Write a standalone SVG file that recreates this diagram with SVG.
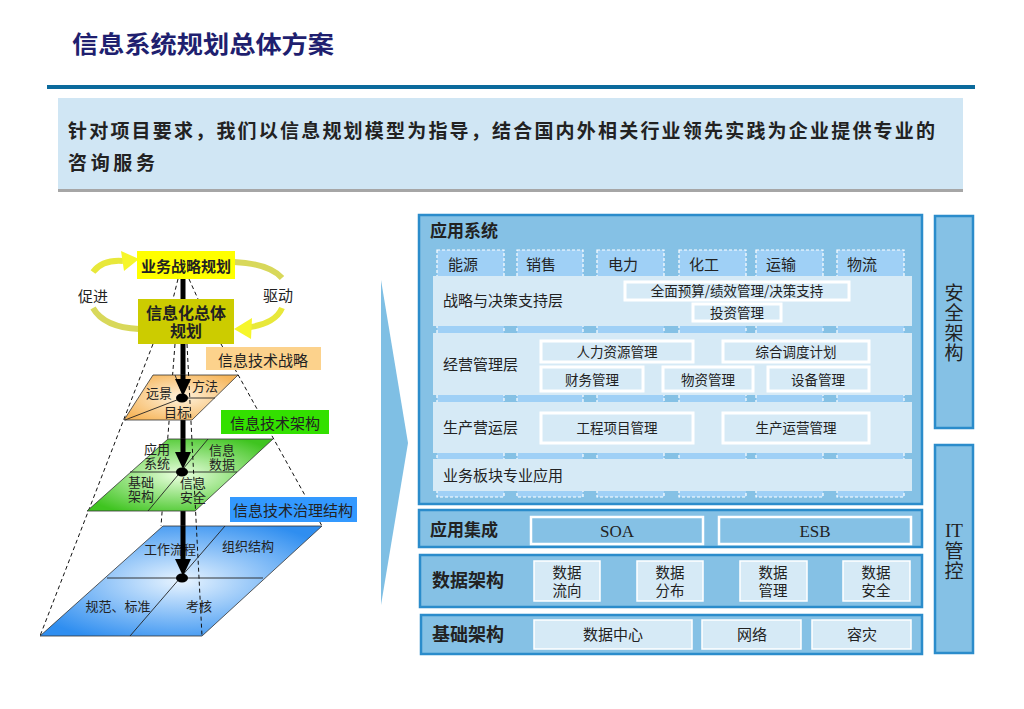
<svg xmlns="http://www.w3.org/2000/svg" width="1024" height="709" viewBox="0 0 1024 709">
<style>
.cjk{font-family:"Noto Sans CJK SC","Noto Sans",sans-serif;}
.t{font-family:"Noto Sans CJK SC","Noto Sans",sans-serif;fill:#222;}
.b{font-weight:bold;}
.ser{font-family:"Liberation Serif","Noto Sans CJK SC",serif;fill:#222;}
.vt{font-family:"Noto Sans CJK SC","Noto Sans",sans-serif;fill:#222;writing-mode:vertical-rl;letter-spacing:1px;}
.panel{fill:#85c1e5;stroke:#2b8ccb;stroke-width:2.5;}
.tab{fill:#9fd0f6;stroke:#ffffff;stroke-width:1.2;stroke-dasharray:3 2;}
.layer{fill:#d6eaf6;}
.ibox{fill:#d6eaf6;stroke:#ffffff;stroke-width:3;}
.ibox2{fill:#85c1e5;stroke:#ffffff;stroke-width:2.5;}
.dbox{fill:#d6eaf6;stroke:#ffffff;stroke-width:1.5;}
.dash{fill:none;stroke:#111;stroke-width:1;stroke-dasharray:4 3;}
.plane{stroke:#333;stroke-width:0.8;}
.div{stroke:#222;stroke-width:0.9;fill:none;}
.yarc{fill:none;stroke-width:6;}
.blk{stroke:#000;stroke-width:5;}
</style>
<defs>
<radialGradient id="gOr" cx="0.5" cy="0.5" r="0.6">
<stop offset="0" stop-color="#fff2dc"/><stop offset="1" stop-color="#f6b65c"/>
</radialGradient>
<radialGradient id="gGr" cx="0.5" cy="0.5" r="0.6">
<stop offset="0" stop-color="#eaffdf"/><stop offset="1" stop-color="#3fc420"/>
</radialGradient>
<radialGradient id="gBl" cx="0.5" cy="0.5" r="0.6">
<stop offset="0" stop-color="#e8f4ff"/><stop offset="1" stop-color="#2f8ef0"/>
</radialGradient>
<linearGradient id="gY1" x1="0" y1="1" x2="0" y2="0">
<stop offset="0" stop-color="#d6d65a"/><stop offset="1" stop-color="#f6f62a"/>
</linearGradient>
<linearGradient id="gY2" x1="0" y1="0" x2="0" y2="1">
<stop offset="0" stop-color="#d6d65a"/><stop offset="1" stop-color="#f6f62a"/>
</linearGradient>
</defs>
<rect width="1024" height="709" fill="#ffffff"/>

<g id="header">
<text x="72" y="53" class="cjk b" font-size="24" fill="#1f1f6f" textLength="262" lengthAdjust="spacingAndGlyphs">信息系统规划总体方案</text>
<rect x="47" y="85" width="928" height="4" fill="#0b6a9c"/>
<rect x="58" y="98" width="905" height="92" fill="#d0e6f4"/>
<rect x="58" y="189" width="905" height="3" fill="#a6a6a6"/>
<text x="68" y="138" class="t b" font-size="19" textLength="867">针对项目要求，我们以信息规划模型为指导，结合国内外相关行业领先实践为企业提供专业的</text>
<text x="68" y="170" class="t b" font-size="19" textLength="87">咨询服务</text>
</g>

<g id="connectors">
<line class="dash" x1="153" y1="344" x2="40" y2="636"/>
<line class="dash" x1="175" y1="344" x2="161" y2="526"/>
<line class="dash" x1="221" y1="344" x2="322" y2="526"/>
<line class="dash" x1="178" y1="279" x2="173" y2="299"/>
<line class="dash" x1="189" y1="279" x2="198" y2="299"/>
<path class="yarc" stroke="#e8e83a" d="M93 272 C100 263 110 260 123 261"/>
<polygon points="139,259 121,251 124,271" fill="#f6f62a"/>
<path class="yarc" stroke="#d8d85a" d="M93 308 C101 322 118 328 139 329"/>
<path class="yarc" stroke="#d8d85a" d="M234 262 C256 263 273 268 282 278"/>
<path class="yarc" stroke="#e8e83a" d="M282 308 C278 318 266 325 250 327"/>
<polygon points="234,329 252,318 251,339" fill="#f6f62a"/>
<line class="blk" x1="183" y1="278" x2="183" y2="299"/>
<line class="blk" x1="183" y1="343" x2="183" y2="575"/>
</g>

<g id="plane-strategy">
<polygon class="plane" points="153,375 238,375 192,420 124,420" fill="url(#gOr)"/>
<line class="div" x1="182" y1="398" x2="125" y2="420"/>
<line class="div" x1="182" y1="398" x2="215" y2="398"/>
<line class="div" x1="175" y1="375" x2="182" y2="393"/>
<text x="159" y="398" class="t" font-size="13" text-anchor="middle">远景</text>
<text x="205" y="391" class="t" font-size="13" text-anchor="middle">方法</text>
<text x="177" y="417" class="t" font-size="13" text-anchor="middle">目标</text>
</g>

<g id="plane-architecture">
<polygon class="plane" points="168,439 273,439 195,511 87,511" fill="url(#gGr)"/>
<line class="div" x1="130" y1="472" x2="237" y2="472"/>
<line class="div" x1="208" y1="439" x2="148" y2="511"/>
<text class="t" font-size="13" text-anchor="middle"><tspan x="157" y="454">应用</tspan><tspan x="157" y="468">系统</tspan></text>
<text class="t" font-size="13" text-anchor="middle"><tspan x="222" y="455">信息</tspan><tspan x="222" y="469">数据</tspan></text>
<text class="t" font-size="13" text-anchor="middle"><tspan x="141" y="487">基础</tspan><tspan x="141" y="501">架构</tspan></text>
<text class="t" font-size="13" text-anchor="middle"><tspan x="193" y="488">信息</tspan><tspan x="193" y="502">安全</tspan></text>
</g>

<g id="plane-governance">
<polygon class="plane" points="163,526 322,526 202,636 40,636" fill="url(#gBl)"/>
<line class="div" x1="107" y1="578" x2="263" y2="578"/>
<line class="div" x1="225" y1="526" x2="130" y2="636"/>
<text x="170" y="554" class="t" font-size="13" text-anchor="middle">工作流程</text>
<text x="248" y="551" class="t" font-size="13" text-anchor="middle">组织结构</text>
<text x="118" y="611" class="t" font-size="13" text-anchor="middle">规范、标准</text>
<text x="199" y="611" class="t" font-size="13" text-anchor="middle">考核</text>
</g>

<g id="main-arrow">
<line class="dash" x1="187" y1="344" x2="202" y2="636"/>
<line class="blk" x1="183" y1="375" x2="183" y2="382"/>
<polygon points="175,379 191,379 183,396" fill="#000"/>
<ellipse cx="182" cy="398" rx="6" ry="4.5" fill="#000"/>
<line class="blk" x1="183" y1="439" x2="183" y2="455"/>
<polygon points="175,452 191,452 183,469" fill="#000"/>
<ellipse cx="182" cy="472" rx="6" ry="4.5" fill="#000"/>
<line class="blk" x1="183" y1="526" x2="183" y2="562"/>
<polygon points="175,559 191,559 183,576" fill="#000"/>
<ellipse cx="182" cy="578" rx="6" ry="4.5" fill="#000"/>
</g>

<g id="node-business">
<rect x="137" y="251" width="98" height="28" fill="#ffff00"/>
<text x="186" y="272" class="t b" font-size="15" fill="#000" text-anchor="middle">业务战略规划</text>
</g>
<g id="node-overall">
<rect x="138" y="299" width="96" height="45" fill="#cccc00"/>
<text class="t b" font-size="16" text-anchor="middle"><tspan x="186" y="319">信息化总体</tspan><tspan x="186" y="337">规划</tspan></text>
</g>
<g id="label-cycle">
<text x="93" y="302" class="t" font-size="15" text-anchor="middle" fill="#333">促进</text>
<text x="278" y="301" class="t" font-size="15" text-anchor="middle" fill="#333">驱动</text>
</g>
<g id="label-strategy">
<rect x="206" y="347" width="115" height="23" fill="#fcd28c"/>
<text x="263" y="366" class="t" font-size="15" text-anchor="middle">信息技术战略</text>
</g>
<g id="label-architecture">
<rect x="221" y="410" width="108" height="24" fill="#33e000"/>
<text x="275" y="429" class="t" font-size="15" text-anchor="middle">信息技术架构</text>
</g>
<g id="label-governance">
<rect x="230" y="497" width="127" height="25" fill="#3399ff"/>
<text x="293" y="516" class="t" font-size="15" text-anchor="middle">信息技术治理结构</text>
</g>

<g id="chevron">
<polygon points="381,280 408,443 381,605" fill="#7fbfe4"/>
</g>

<g id="app-system">
<rect class="panel" x="419" y="215" width="503" height="289"/>
<text x="430" y="237" class="t b" font-size="17">应用系统</text>
<rect class="tab" x="437" y="250" width="67" height="247"/>
<rect class="tab" x="517" y="250" width="66" height="247"/>
<rect class="tab" x="597" y="250" width="67" height="247"/>
<rect class="tab" x="679" y="250" width="67" height="247"/>
<rect class="tab" x="756" y="250" width="67" height="247"/>
<rect class="tab" x="837" y="250" width="67" height="247"/>
<text x="448" y="270" class="t" font-size="15">能源</text>
<text x="526" y="270" class="t" font-size="15">销售</text>
<text x="608" y="270" class="t" font-size="15">电力</text>
<text x="689" y="270" class="t" font-size="15">化工</text>
<text x="766" y="270" class="t" font-size="15">运输</text>
<text x="847" y="270" class="t" font-size="15">物流</text>
<rect class="layer" x="433" y="276" width="479" height="50"/>
<rect class="layer" x="433" y="333" width="479" height="62"/>
<rect class="layer" x="433" y="402" width="479" height="51"/>
<rect class="layer" x="433" y="459" width="479" height="32"/>
<text x="443" y="306" class="t" font-size="15">战略与决策支持层</text>
<text x="443" y="370" class="t" font-size="15">经营管理层</text>
<text x="443" y="433" class="t" font-size="15">生产营运层</text>
<text x="443" y="481" class="t" font-size="15">业务板块专业应用</text>
<rect class="ibox" x="625" y="282" width="224" height="18"/>
<text x="737" y="296" class="t" font-size="13.5" text-anchor="middle">全面预算/绩效管理/决策支持</text>
<rect class="ibox" x="693" y="304" width="88" height="17"/>
<text x="737" y="318" class="t" font-size="13.5" text-anchor="middle">投资管理</text>
<rect class="ibox" x="541" y="341" width="152" height="21"/>
<text x="617" y="357" class="t" font-size="13.5" text-anchor="middle">人力资源管理</text>
<rect class="ibox" x="723" y="341" width="146" height="21"/>
<text x="796" y="357" class="t" font-size="13.5" text-anchor="middle">综合调度计划</text>
<rect class="ibox" x="541" y="367" width="102" height="24"/>
<text x="592" y="385" class="t" font-size="13.5" text-anchor="middle">财务管理</text>
<rect class="ibox" x="663" y="367" width="90" height="24"/>
<text x="708" y="385" class="t" font-size="13.5" text-anchor="middle">物资管理</text>
<rect class="ibox" x="768" y="367" width="101" height="24"/>
<text x="818" y="385" class="t" font-size="13.5" text-anchor="middle">设备管理</text>
<rect class="ibox" x="541" y="413" width="152" height="30"/>
<text x="617" y="433" class="t" font-size="13.5" text-anchor="middle">工程项目管理</text>
<rect class="ibox" x="723" y="413" width="146" height="30"/>
<text x="796" y="433" class="t" font-size="13.5" text-anchor="middle">生产运营管理</text>
</g>

<g id="app-integration">
<rect class="panel" x="419" y="510" width="503" height="37"/>
<text x="430" y="536" class="t b" font-size="17">应用集成</text>
<rect class="ibox2" x="531" y="517" width="172" height="27"/>
<text x="617" y="537" class="ser" font-size="17" text-anchor="middle">SOA</text>
<rect class="ibox2" x="719" y="517" width="192" height="27"/>
<text x="815" y="537" class="ser" font-size="17" text-anchor="middle">ESB</text>
</g>

<g id="data-architecture">
<rect class="panel" x="420" y="555" width="502" height="52"/>
<text x="432" y="587" class="t b" font-size="18">数据架构</text>
<rect class="dbox" x="534" y="561" width="66" height="40"/>
<text class="t" font-size="14.5" text-anchor="middle"><tspan x="567" y="578">数据</tspan><tspan x="567" y="596">流向</tspan></text>
<rect class="dbox" x="637" y="561" width="66" height="40"/>
<text class="t" font-size="14.5" text-anchor="middle"><tspan x="670" y="578">数据</tspan><tspan x="670" y="596">分布</tspan></text>
<rect class="dbox" x="740" y="561" width="67" height="40"/>
<text class="t" font-size="14.5" text-anchor="middle"><tspan x="773" y="578">数据</tspan><tspan x="773" y="596">管理</tspan></text>
<rect class="dbox" x="843" y="561" width="67" height="40"/>
<text class="t" font-size="14.5" text-anchor="middle"><tspan x="876" y="578">数据</tspan><tspan x="876" y="596">安全</tspan></text>
</g>

<g id="infrastructure">
<rect class="panel" x="421" y="615" width="501" height="39"/>
<text x="432" y="641" class="t b" font-size="18">基础架构</text>
<rect class="dbox" x="534" y="620" width="158" height="29"/>
<text x="613" y="640" class="t" font-size="15" text-anchor="middle">数据中心</text>
<rect class="dbox" x="702" y="620" width="99" height="29"/>
<text x="752" y="640" class="t" font-size="15" text-anchor="middle">网络</text>
<rect class="dbox" x="812" y="620" width="99" height="29"/>
<text x="862" y="640" class="t" font-size="15" text-anchor="middle">容灾</text>
</g>

<g id="security">
<rect class="panel" x="935" y="216" width="38" height="212"/>
<text x="954" y="283" class="vt" font-size="19">安全架构</text>
</g>

<g id="it-control">
<rect class="panel" x="935" y="445" width="38" height="208"/>
<text x="954" y="537" class="ser" font-size="19" text-anchor="middle">IT</text>
<text x="954" y="541" class="vt" font-size="19">管控</text>
</g>
</svg>
